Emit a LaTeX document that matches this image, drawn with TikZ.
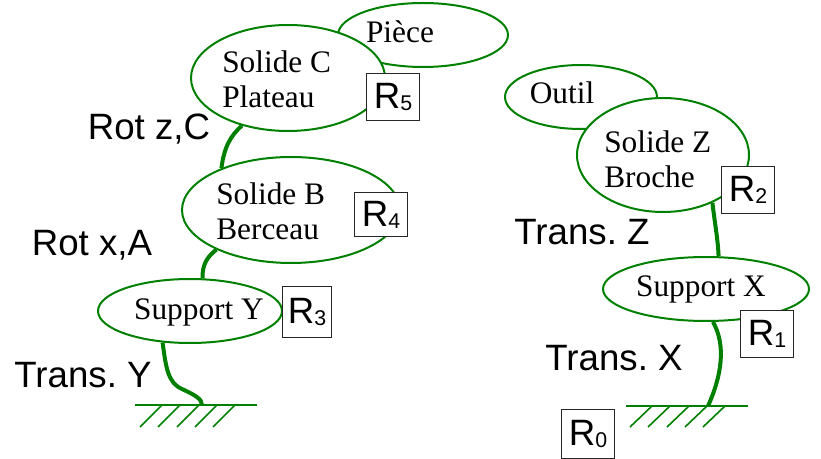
\documentclass[tikz,border=0pt]{standalone}
\usepackage{fontspec}
\setmainfont{Liberation Serif}
\setsansfont{Liberation Sans}
\usetikzlibrary{shapes.geometric,backgrounds}
\definecolor{lgreen}{RGB}{0,128,0}
\newcommand\Rsub[1]{R\raisebox{-1.5pt}{\fontsize{16}{16}\selectfont #1}}
\frenchspacing
\begin{document}
\begin{tikzpicture}[x=0.75pt,y=-0.75pt,
  body/.style 2 args={ellipse, draw=lgreen, line width=1.5pt, fill=white, inner sep=0pt,
     minimum width=#1*1.5pt, minimum height=#2*1.5pt},
  lbl/.style={font=\fontsize{23.5}{26.25}\selectfont, align=left, inner sep=0pt},
  rbox/.style={draw=black!85, line width=0.75pt, fill=white, inner sep=0pt,
     minimum width=53*0.75pt, minimum height=47*0.75pt,
     font=\sffamily\fontsize{27.5}{27.5}\selectfont},
  jl/.style={font=\sffamily\fontsize{27.5}{30}\selectfont, inner sep=0pt, anchor=base},
  link/.style={draw=lgreen, line width=3pt},
  gnd/.style={draw=lgreen, line width=1.5pt},
  hatch/.style={draw=lgreen, line width=1.2pt}]
\useasboundingbox (0,0) rectangle (821,459);

% left chain
\node[body={85}{32}] (piece) at (423,35) {};
\node[lbl, anchor=base] (tpiece) at (400,43) {Pièce};
\node[body={97}{53}] (solC) at (288,78) {};
\node[lbl, anchor=west] (tsolC) at (222,79) {Solide C\\Plateau};
\node[rbox] (r5) at (393,97) {\Rsub{5}};

\node[body={109}{53}] (solB) at (291,210) {};
\node[lbl, anchor=west] (tsolB) at (216,211) {Solide B\\Berceau};
\node[rbox, minimum height=44*0.75pt] (r4) at (381,215) {\Rsub{4}};

\node[body={92}{32}] (supY) at (190,311) {};
\node[lbl, anchor=base] (tsupY) at (199,320) {Support Y};
\node[rbox, minimum width=49*0.75pt, minimum height=51*0.75pt] (r3) at (307,312) {\Rsub{3}};

% right chain
\node[body={76}{32}] (outil) at (581,97) {};
\node[lbl, anchor=base] (toutil) at (562,104) {Outil};
\node[body={86}{57}] (solZ) at (663,155) {};
\node[lbl, anchor=west] (tsolZ) at (604,159) {Solide Z\\Broche};
\node[rbox] (r2) at (748,190) {\Rsub{2}};

\node[body={103}{32}] (supX) at (706,289) {};
\node[lbl, anchor=base] (tsupX) at (701,297) {Support X};
\node[rbox] (r1) at (767,334) {\Rsub{1}};

\node[rbox, minimum height=48*0.75pt] (r0) at (588,434) {\Rsub{0}};

% joint labels
\node[jl] (lrz) at (149,140) {Rot z,C};
\node[jl] (lrx) at (92,256) {Rot x,A};
\node[jl] (lty) at (83,388) {Trans. Y};
\node[jl] (ltz) at (582,245) {Trans. Z};
\node[jl] (ltx) at (614,371) {Trans. X};

% grounds
\coordinate (gL) at (202,405);
\coordinate (gR) at (708,406);
\draw[gnd] (135,405) -- (257,405);
\foreach \x in {140,158,177,195,213} \draw[hatch] (\x,427) -- (\x+22,405);
\draw[gnd] (626,406) -- (748,406);
\foreach \x in {630,648,667,685,703} \draw[hatch] (\x,427) -- (\x+22,406);

% links
\begin{scope}[on background layer]
\draw[link] (supY.229) .. controls (166,368) and (168,383) .. (182,389)
   .. controls (195,395) and (202,399) .. (gL);
\draw[link] (supY.69) .. controls (202,264) and (208,256) .. (solB.208);
\draw[link] (solB.149) .. controls (224,148) and (230,136) .. (solC.226);
\draw[link] (solZ.316) .. controls (715,225) and (718,240) .. (supX.69);
\draw[link] (supX.282) .. controls (726,345) and (722,375) .. (gR);
\end{scope}
\end{tikzpicture}
\end{document}
